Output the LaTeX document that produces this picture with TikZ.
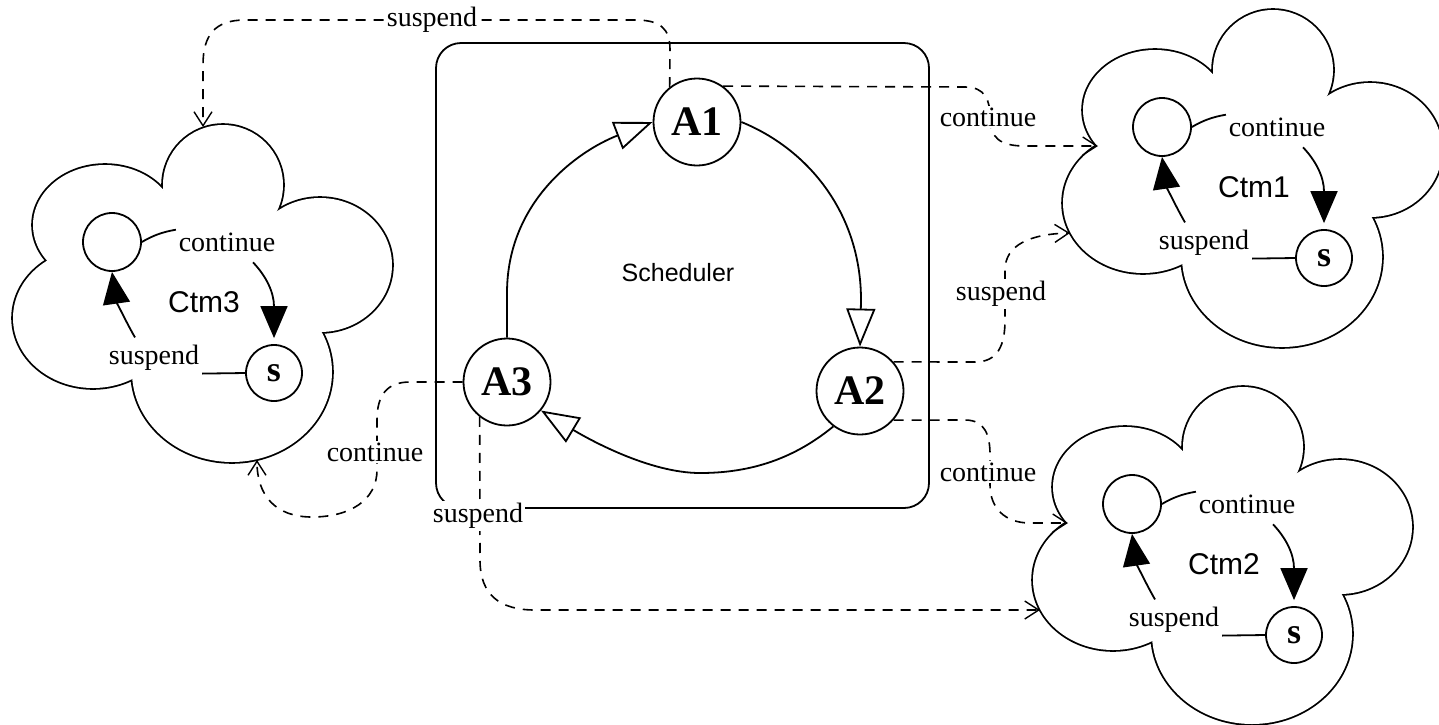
\documentclass[tikz,border=0pt]{standalone}
\usepackage{fontspec}
\setmainfont{Liberation Serif}
\newfontfamily\arialfont{Liberation Sans}
\usetikzlibrary{arrows.meta,calc}

\tikzset{
  lbl/.style={font=\fontsize{28}{30}\selectfont, fill=white, inner sep=2pt},
  ctmname/.style={font=\arialfont\fontsize{30}{32}\selectfont},
  agent/.style={circle, draw, fill=white, minimum size=87pt, inner sep=0pt,
    font=\fontsize{42}{44}\selectfont\bfseries},
  ctmstate/.style={circle, draw, fill=white, minimum size=58pt, inner sep=0pt},
  sstate/.style={circle, draw, fill=white, minimum size=56pt, inner sep=0pt,
    font=\fontsize{36}{38}\selectfont\bfseries},
  opentri/.style={-{Triangle[open, length=38pt, width=29pt]}},
  filltri/.style={-{Triangle[length=32pt, width=27pt]}},
  dashlink/.style={line width=1.6pt, dash pattern=on 10pt off 8pt,
    -{Straight Barb[length=14pt, width=18pt, line width=1.4pt]}},
}

% one cloud-shaped machine: #1 name prefix, #2 shift, #3 title
\newcommand{\ctmcloud}[3]{%
  \begin{scope}[shift={#2}]
    \foreach \cx/\cy/\rx/\ry in {223/185/60/60, 320/265/72/67, 232/372/100/90,
                                 93/318/80/70, 105/225/72/60, 200/290/110/80}
      \draw[line width=3.6pt] (\cx,\cy) ellipse [x radius=\rx, y radius=\ry];
    \foreach \cx/\cy/\rx/\ry in {223/185/60/60, 320/265/72/67, 232/372/100/90,
                                 93/318/80/70, 105/225/72/60, 200/290/110/80}
      \fill[white] (\cx,\cy) ellipse [x radius=\rx, y radius=\ry];
    \node[ctmstate] (#1c) at (112,242) {};
    \node[sstate] (#1s) at (274,373) {s};
    \node[lbl] (#1cont) at (227,242) {continue};
    \node[lbl] (#1susp) at (154,358) {suspend};
    \node[ctmname] (#1name) at (204,302) {#3};
    \coordinate (#1notch) at (48,261);
    \coordinate (#1low) at (20,348);
    \coordinate (#1top) at (203,127);
    \coordinate (#1bot) at (257,460);
    \draw (#1c.east) .. controls (152,236) and (162,232) .. (#1cont.north west);
    \draw[filltri, shorten >=6pt] ($(#1cont.south)+(26,8)$)
      .. controls (266,276) and (274,292) .. (#1s.north);
    \draw (#1s.west) -- (#1susp.south east);
    \draw[filltri] ($(#1susp.north)+(-19,-5)$)
      .. controls (126,322) and (116,300) .. (#1c.south);
  \end{scope}}

\begin{document}
\begin{tikzpicture}[x=1pt, y=-1pt, line width=1.8pt]
  \useasboundingbox (0,0) rectangle (1439,724);

  % the three machines
  \ctmcloud{m3}{(0,0)}{Ctm3}
  \ctmcloud{m1}{(1050,-115)}{Ctm1}
  \ctmcloud{m2}{(1020,262)}{Ctm2}

  % scheduler frame
  \draw[rounded corners=25pt] (436,43) rectangle (929,508);
  \node[font=\arialfont\fontsize{25}{27}\selectfont] (sched) at (678,273) {Scheduler};

  % agents
  \node[agent] (A1) at (697,122) {A1};
  \node[agent] (A2) at (860,391) {A2};
  \node[agent] (A3) at (507,382) {A3};

  % round-robin ring
  \draw[opentri] (A1.east) .. controls (810,150) and (861,215) .. (861,300) -- (A2.north);
  \draw[opentri] (A2.233) .. controls (790,462) and (745,473) .. (700,473)
    .. controls (650,473) and (590,440) .. (A3.-40);
  \draw[opentri] (A3.north) -- (507,293) .. controls (507,200) and (580,150) .. (A1.west);

  % control links from the agents to the machines
  \draw[dashlink] (A1.128) -- (670,50) .. controls (670,28) and (660,20) .. (635,20)
    -- (245,20) .. controls (215,20) and (203,35) .. (203,65) -- (m3top);
  \draw[dashlink] (A1.54) -- (965,87) .. controls (985,87) and (990,100) .. (990,117)
    .. controls (990,138) and (1000,146) .. (1025,146) -- (m1notch);
  \draw[dashlink] (A2.41) -- (975,362) .. controls (998,362) and (1005,345) .. (1005,320)
    -- (1005,270) .. controls (1005,245) and (1030,234) .. (m1low);
  \draw[dashlink] (A2.-41) -- (965,420) .. controls (985,420) and (990,435) .. (990,455)
    -- (990,485) .. controls (990,508) and (1005,523) .. (1030,523) -- (m2notch);
  \draw[dashlink] (A3.west) -- (410,382) .. controls (387,382) and (377,395) .. (377,420)
    -- (377,470) .. controls (377,500) and (350,517) .. (312,517)
    .. controls (275,517) and (257,495) .. (m3bot);
  \draw[dashlink] (A3.-128) -- (480,560) .. controls (480,595) and (500,610) .. (535,610)
    -- (m2low);

  % link labels
  \node[lbl] (l1) at (432,20) {suspend};
  \node[lbl] (l2) at (988,117) {continue};
  \node[lbl] (l3) at (1001,294) {suspend};
  \node[lbl] (l4) at (988,472) {continue};
  \node[lbl] (l5) at (375,452) {continue};
  \node[lbl] (l6) at (478,516) {suspend};
\end{tikzpicture}
\end{document}
